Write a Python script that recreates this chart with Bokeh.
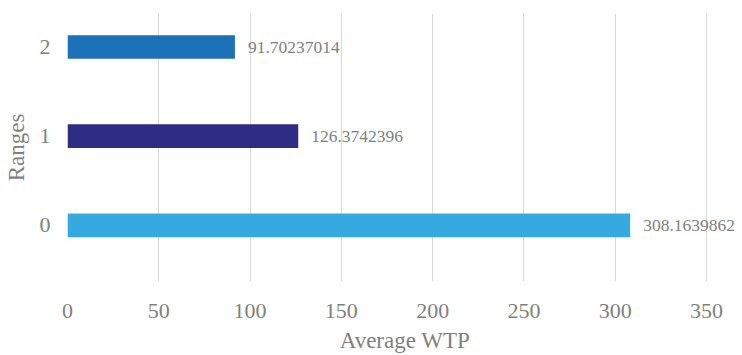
from bokeh.plotting import figure
from bokeh.models import ColumnDataSource, FixedTicker, LabelSet
from bokeh.embed import file_html
from bokeh.resources import INLINE

# Data
ranges = [0, 1, 2]
avg_wtp = [308.1639862, 126.3742396, 91.70237014]
value_labels = ["308.1639862", "126.3742396", "91.70237014"]
bar_colors = ["#36a9e0", "#2e2d83", "#1c71b8"]
x_ticks = [0, 50, 100, 150, 200, 250, 300, 350]

FONT = "'Liberation Serif', 'Times New Roman', serif"
GREY = "#7f7f7f"

src = ColumnDataSource(dict(y=ranges, x=avg_wtp, lab=value_labels, c=bar_colors))

p = figure(width=742, height=355, output_backend="svg", toolbar_location=None,
           x_range=(0, 369.7), y_range=(-0.63, 2.376),
           min_border_left=66, min_border_right=0, min_border_top=13, min_border_bottom=70)
p.outline_line_color = None
p.background_fill_color = "white"
p.border_fill_color = "white"

p.hbar(y="y", left=0, right="x", height=0.265, fill_color="c", line_color=None, source=src)

labels = LabelSet(x="x", y="y", text="lab", source=src, x_offset=13, y_offset=0,
                  text_baseline="middle", text_align="left",
                  text_font=FONT, text_font_size="17.5px", text_color=GREY)
p.add_layout(labels)

p.xaxis.ticker = FixedTicker(ticks=x_ticks)
p.yaxis.ticker = FixedTicker(ticks=ranges)
for ax in (p.xaxis, p.yaxis):
    ax.axis_line_color = None
    ax.major_tick_line_color = None
    ax.minor_tick_line_color = None
    ax.major_label_text_font = FONT
    ax.major_label_text_font_size = "22px"
    ax.major_label_text_color = GREY
    ax.axis_label_text_font = FONT
    ax.axis_label_text_font_size = "23px"
    ax.axis_label_text_color = GREY
    ax.axis_label_text_font_style = "normal"

p.xaxis.axis_label = "Average WTP"
p.yaxis.axis_label = "Ranges"
p.xaxis.major_label_standoff = 16
p.xaxis.axis_label_standoff = 7
p.yaxis.major_label_standoff = 11
p.yaxis.axis_label_standoff = 8

p.xgrid.grid_line_color = "#d9d9d9"
p.xgrid.grid_line_width = 1
p.ygrid.grid_line_color = None

open("out.html", "w").write(file_html(p, INLINE))
